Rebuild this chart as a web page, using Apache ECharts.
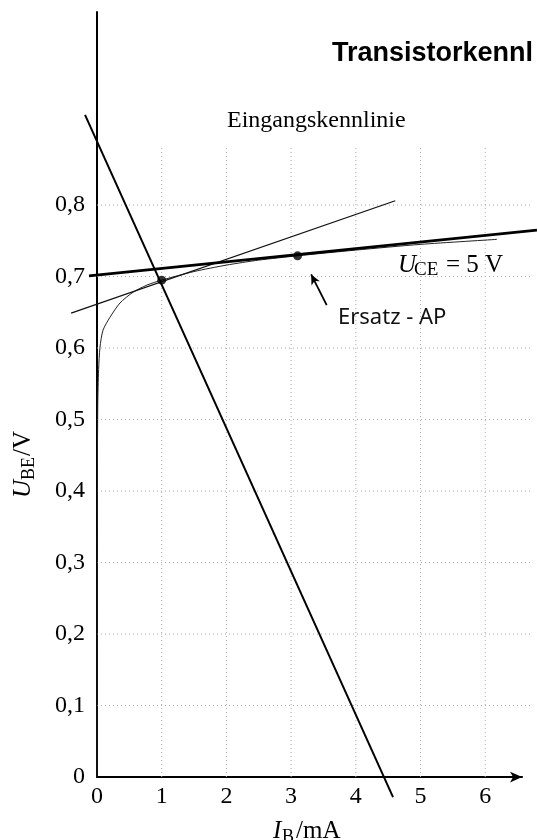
<!DOCTYPE html>
<html>
<head>
<meta charset="utf-8">
<script src="https://cdn.jsdelivr.net/npm/echarts@6/dist/echarts.min.js"></script>
<style>html,body{margin:0;padding:0;background:#fff}#c{width:537px;height:840px}</style>
</head>
<body>
<div id="c"></div>
<script>
// ---- data ----
const xTicks = [0, 1, 2, 3, 4, 5, 6];
const yTicks = [0, 0.1, 0.2, 0.3, 0.4, 0.5, 0.6, 0.7, 0.8];
const gridX = [1, 2, 3, 4, 5, 6];
const gridY = [0.1, 0.2, 0.3, 0.4, 0.5, 0.6, 0.7, 0.8];
const gridTopUBE = 0.88;
const gridRightIB = 6.7;

// input characteristic U_CE = 5 V
const curveIB  = [0, 0.005, 0.012, 0.025, 0.046, 0.093, 0.2, 0.355, 0.556, 0.77, 1.0, 1.5, 2.0, 2.5, 3.1, 4.0, 5.0, 6.18];
const curveUBE = [0, 0.40, 0.52, 0.57, 0.601, 0.625, 0.643, 0.663, 0.678, 0.688, 0.695, 0.707, 0.716, 0.723, 0.729, 0.737, 0.745, 0.752];

// load line
const loadIB  = [-0.185, 4.575];
const loadUBE = [0.926, -0.028];
// tangent at operating point (thin)
const tanIB  = [-0.40, 4.61];
const tanUBE = [0.649, 0.806];
// substitute tangent (thick)
const ersIB  = [-0.124, 6.80];
const ersUBE = [0.701, 0.765];
// operating points
const apIB  = [1.0, 3.1];
const apUBE = [0.695, 0.729];
// annotation arrow
const arrowIB  = [3.55, 3.31];
const arrowUBE = [0.660, 0.703];

const zip = (a, b) => a.map((v, i) => [v, b[i]]);
const onB = { xAxisIndex: 1, yAxisIndex: 1 };

const gridSeries = [];
gridX.forEach(x => gridSeries.push(Object.assign({
  type: 'line', data: [[x, 0], [x, gridTopUBE]], symbol: 'none', silent: true,
  lineStyle: { color: '#aaa', width: 1, type: [1, 3] }, z: 1
}, onB)));
gridY.forEach(y => gridSeries.push(Object.assign({
  type: 'line', data: [[0, y], [gridRightIB, y]], symbol: 'none', silent: true,
  lineStyle: { color: '#aaa', width: 1, type: [1, 3] }, z: 1
}, onB)));

const serif = '"Liberation Serif", "DejaVu Serif", serif';
const near = (v, arr) => arr.find(t => Math.abs(t - v) < 1e-6);

const chart = echarts.init(document.getElementById('c'), null, { renderer: 'canvas' });
chart.setOption({
  animation: false,
  backgroundColor: '#fff',
  grid: [
    // visible axes
    { left: 97, right: 14.92, top: 12, bottom: 62.95, containLabel: false, outerBoundsMode: 'none' },
    // drawing area (same scale, extended)
    { left: 64.65, right: 0.04, top: 12, bottom: 27.2, containLabel: false, outerBoundsMode: 'none' }
  ],
  xAxis: [{
    gridIndex: 0, type: 'value', min: 0, max: 6.57, interval: 1,
    axisLine: { show: true, onZero: false, lineStyle: { color: '#000', width: 2 }, symbol: ['none', 'arrow'], symbolSize: [8, 12] },
    axisTick: { show: false },
    splitLine: { show: false },
    axisLabel: { fontFamily: serif, fontSize: 24, color: '#000', margin: 8, showMaxLabel: false,
      formatter: v => { const t = near(v, xTicks); return t === undefined ? '' : String(t); } }
  }, {
    gridIndex: 1, type: 'value', min: -0.5, max: 6.8, show: false
  }],
  yAxis: [{
    gridIndex: 0, type: 'value', min: 0, max: 1.07, interval: 0.1,
    axisLine: { show: true, onZero: false, lineStyle: { color: '#000', width: 2 } },
    axisTick: { show: false },
    splitLine: { show: false },
    axisLabel: { fontFamily: serif, fontSize: 24, color: '#000', margin: 12, showMaxLabel: false,
      formatter: v => {
        const t = near(Math.round(v * 100) / 100, yTicks);
        if (t === undefined) return '';
        return t === 0 ? '0' : t.toFixed(1).replace('.', ',');
      } }
  }, {
    gridIndex: 1, type: 'value', min: -0.05, max: 1.07, show: false
  }],
  series: gridSeries.concat([
    Object.assign({ type: 'line', data: zip(curveIB, curveUBE), symbol: 'none', smooth: 0.25,
      lineStyle: { color: '#222', width: 1 }, z: 3 }, onB),
    Object.assign({ type: 'line', data: zip(tanIB, tanUBE), symbol: 'none',
      lineStyle: { color: '#111', width: 1.3 }, z: 3 }, onB),
    Object.assign({ type: 'line', data: zip(ersIB, ersUBE), symbol: 'none',
      lineStyle: { color: '#000', width: 2.6 }, z: 4 }, onB),
    Object.assign({ type: 'line', data: zip(loadIB, loadUBE), symbol: 'none',
      lineStyle: { color: '#000', width: 2 }, z: 4 }, onB),
    Object.assign({ type: 'scatter', data: zip(apIB, apUBE), symbol: 'circle', symbolSize: 9,
      itemStyle: { color: '#000' }, z: 5 }, onB),
    Object.assign({ type: 'line', data: [], symbol: 'none',
      markLine: { silent: true, symbol: ['none', 'arrow'], symbolSize: [7, 10], label: { show: false },
        lineStyle: { color: '#000', width: 1.8, type: 'solid' },
        data: [[{ coord: [arrowIB[0], arrowUBE[0]] }, { coord: [arrowIB[1], arrowUBE[1]] }]] } }, onB)
  ]),
  graphic: [
    { type: 'text', x: 332, y: 54, style: { text: 'Transistorkennl', font: 'bold 27px "Liberation Sans", Arial, sans-serif', fill: '#000', textVerticalAlign: 'middle' } },
    { type: 'text', x: 227, y: 121, style: { text: 'Eingangskennlinie', font: '24px ' + serif, fill: '#000', textVerticalAlign: 'middle' } },
    // U_CE = 5 V
    { type: 'text', x: 398, y: 265, style: { text: 'U', font: 'italic 25px ' + serif, fill: '#000', textVerticalAlign: 'middle' } },
    { type: 'text', x: 414, y: 270, style: { text: 'CE', font: '19px ' + serif, fill: '#000', textVerticalAlign: 'middle' } },
    { type: 'text', x: 446, y: 265, style: { text: '= 5 V', font: '25px ' + serif, fill: '#000', textVerticalAlign: 'middle' } },
    // Ersatz - AP
    { type: 'text', x: 338, y: 318, style: { text: 'Ersatz - AP', font: '22px "Noto Sans", sans-serif', fill: '#111', textVerticalAlign: 'middle' } },
    // x axis name
    { type: 'text', x: 273, y: 831, style: { text: 'I', font: 'italic 25px ' + serif, fill: '#000', textVerticalAlign: 'middle' } },
    { type: 'text', x: 282, y: 837, style: { text: 'B', font: '18px ' + serif, fill: '#000', textVerticalAlign: 'middle' } },
    { type: 'text', x: 296, y: 831, style: { text: '/mA', font: '25px ' + serif, fill: '#000', textVerticalAlign: 'middle' } },
    // y axis name (rotated)
    { type: 'group', x: 23, y: 498, rotation: Math.PI / 2, children: [
      { type: 'text', x: 0, y: 0, style: { text: 'U', font: 'italic 25px ' + serif, fill: '#000', textVerticalAlign: 'middle' } },
      { type: 'text', x: 18, y: 6, style: { text: 'BE', font: '18px ' + serif, fill: '#000', textVerticalAlign: 'middle' } },
      { type: 'text', x: 42, y: 0, style: { text: '/V', font: '25px ' + serif, fill: '#000', textVerticalAlign: 'middle' } }
    ] }
  ]
});
</script>
</body>
</html>
